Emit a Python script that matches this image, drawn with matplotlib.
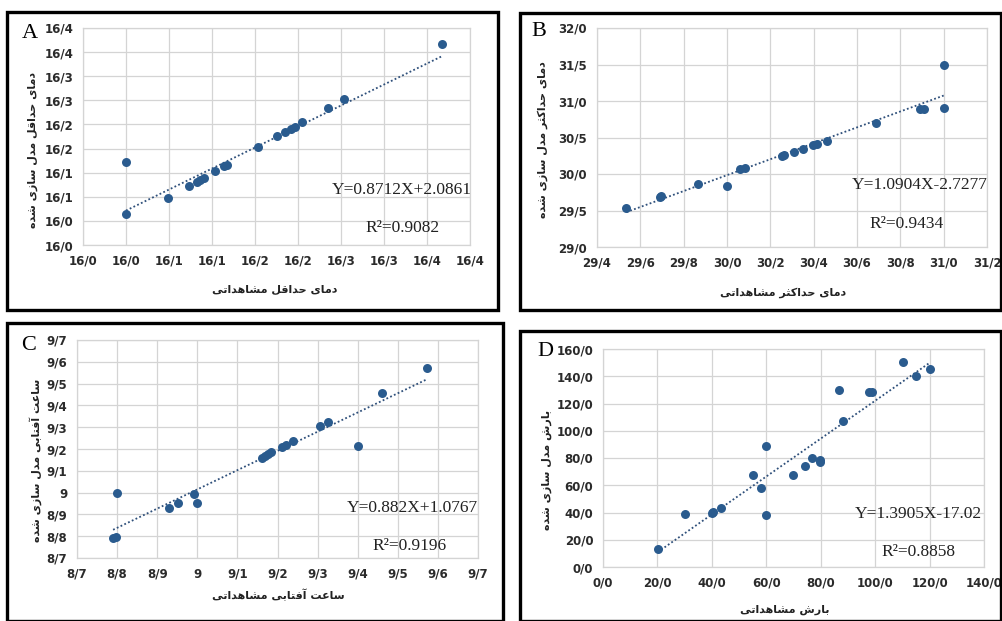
import numpy as np
import matplotlib
matplotlib.use("Agg")
import matplotlib.pyplot as plt
from matplotlib.patches import Rectangle

W, H = 1002, 621

# ---- data ----
a_obs = [16.030, 16.030, 16.079, 16.103, 16.112, 16.116, 16.121, 16.134, 16.144, 16.147,
         16.183, 16.206, 16.215, 16.222, 16.226, 16.235, 16.265, 16.283, 16.397]
a_mod = [16.152, 16.044, 16.078, 16.102, 16.111, 16.114, 16.119, 16.133, 16.143, 16.145,
         16.183, 16.206, 16.214, 16.221, 16.225, 16.235, 16.264, 16.283, 16.397]
a_ticks = [15.98, 16.03, 16.08, 16.13, 16.18, 16.23, 16.28, 16.33, 16.38, 16.43]
a_labels = ["16/0", "16/0", "16/1", "16/1", "16/2", "16/2", "16/3", "16/3", "16/4", "16/4"]
a_fit = (0.8712, 2.0861, 0.9082)

b_obs = [29.535, 29.689, 29.695, 29.867, 30.000, 30.061, 30.085, 30.253, 30.265, 30.309,
         30.349, 30.398, 30.414, 30.460, 30.689, 30.890, 30.908, 31.000, 31.000]
b_mod = [29.537, 29.688, 29.697, 29.867, 29.830, 30.069, 30.087, 30.252, 30.266, 30.307,
         30.349, 30.399, 30.413, 30.454, 30.693, 30.894, 30.894, 30.899, 31.500]
b_xticks = [29.4, 29.6, 29.8, 30.0, 30.2, 30.4, 30.6, 30.8, 31.0, 31.2]
b_xlabels = ["29/4", "29/6", "29/8", "30/0", "30/2", "30/4", "30/6", "30/8", "31/0", "31/2"]
b_yticks = [29.0, 29.5, 30.0, 30.5, 31.0, 31.5, 32.0]
b_ylabels = ["29/0", "29/5", "30/0", "30/5", "31/0", "31/5", "32/0"]
b_fit = (1.0904, -2.7277, 0.9434)

c_obs = [8.790, 8.798, 8.800, 8.929, 8.951, 8.992, 9.000, 9.162, 9.170, 9.176,
         9.183, 9.210, 9.220, 9.239, 9.305, 9.327, 9.401, 9.460, 9.574]
c_mod = [8.792, 8.795, 8.999, 8.929, 8.952, 8.992, 8.952, 9.160, 9.167, 9.175,
         9.184, 9.210, 9.219, 9.237, 9.305, 9.324, 9.216, 9.459, 9.573]
c_ticks = [8.7, 8.8, 8.9, 9.0, 9.1, 9.2, 9.3, 9.4, 9.5, 9.6, 9.7]
c_labels = ["8/7", "8/8", "8/9", "9", "9/1", "9/2", "9/3", "9/4", "9/5", "9/6", "9/7"]
c_fit = (0.882, 1.0767, 0.9196)

d_obs = [20.1, 30.2, 39.9, 40.4, 43.4, 55.0, 57.9, 60.0, 60.0, 69.9, 74.2,
         76.9, 79.9, 79.9, 86.8, 88.1, 97.6, 98.8, 110.1, 114.9, 120.0]
d_mod = [13.2, 39.1, 39.9, 40.4, 43.3, 67.5, 58.0, 88.8, 38.2, 67.3, 74.4,
         79.8, 78.5, 76.8, 129.7, 107.4, 128.2, 128.7, 150.5, 140.4, 145.6]
d_xticks = [0, 20, 40, 60, 80, 100, 120, 140]
d_xlabels = ["0/0", "20/0", "40/0", "60/0", "80/0", "100/0", "120/0", "140/0"]
d_yticks = [0, 20, 40, 60, 80, 100, 120, 140, 160]
d_ylabels = ["0/0", "20/0", "40/0", "60/0", "80/0", "100/0", "120/0", "140/0", "160/0"]
d_fit = (1.3905, -17.02, 0.8858)

a_xtitle = "دمای حداقل مشاهداتی"
a_ytitle = "دمای حداقل مدل سازی شده"
b_xtitle = "دمای حداکثر مشاهداتی"
b_ytitle = "دمای حداکثر مدل سازی شده"
c_xtitle = "ساعت آفتابی مشاهداتی"
c_ytitle = "ساعت آفتابی مدل سازی شده"
d_xtitle = "بارش مشاهداتی"
d_ytitle = "بارش مدل سازی شده"

# ---- minimal Persian shaping (matplotlib has no shaper) ----
FORMS = {
    'ا': ('\uFE8D', '\uFE8E', None, None),
    'آ': ('\uFE81', '\uFE82', None, None),
    'ب': ('\uFE8F', '\uFE90', '\uFE91', '\uFE92'),
    'ت': ('\uFE95', '\uFE96', '\uFE97', '\uFE98'),
    'ث': ('\uFE99', '\uFE9A', '\uFE9B', '\uFE9C'),
    'ح': ('\uFEA1', '\uFEA2', '\uFEA3', '\uFEA4'),
    'د': ('\uFEA9', '\uFEAA', None, None),
    'ر': ('\uFEAD', '\uFEAE', None, None),
    'ز': ('\uFEAF', '\uFEB0', None, None),
    'س': ('\uFEB1', '\uFEB2', '\uFEB3', '\uFEB4'),
    'ش': ('\uFEB5', '\uFEB6', '\uFEB7', '\uFEB8'),
    'ع': ('\uFEC9', '\uFECA', '\uFECB', '\uFECC'),
    'ف': ('\uFED1', '\uFED2', '\uFED3', '\uFED4'),
    'ق': ('\uFED5', '\uFED6', '\uFED7', '\uFED8'),
    'ک': ('\uFB8E', '\uFB8F', '\uFB90', '\uFB91'),
    'ل': ('\uFEDD', '\uFEDE', '\uFEDF', '\uFEE0'),
    'م': ('\uFEE1', '\uFEE2', '\uFEE3', '\uFEE4'),
    'ه': ('\uFEE9', '\uFEEA', '\uFEEB', '\uFEEC'),
    'ی': ('\uFBFC', '\uFBFD', '\uFBFE', '\uFBFF'),
}


def shape(text):
    out = []
    for i, c in enumerate(text):
        if c not in FORMS:
            out.append(c)
            continue
        iso, fin, ini, med = FORMS[c]
        prev = text[i - 1] if i > 0 else None
        nxt = text[i + 1] if i + 1 < len(text) else None
        jp = prev in FORMS and FORMS[prev][2] is not None
        jn = nxt in FORMS and ini is not None
        if jp and jn:
            g = med
        elif jp:
            g = fin
        elif jn:
            g = ini
        else:
            g = iso
        out.append(g)
    return ''.join(reversed(out))


def fx(x):
    return x / W


def fy(y):
    return 1 - y / H


fig = plt.figure(figsize=(W / 100, H / 100), dpi=100)
fig.patch.set_facecolor('white')

DOT = '#2A5B8E'
GRID = '#D4D4D4'
TICK = '#2B2B2B'

panels = [
    dict(x=a_obs, y=a_mod, xt=a_ticks, xl=a_labels, yt=a_ticks, yl=a_labels, fit=a_fit,
         xtitle=a_xtitle, ytitle=a_ytitle, letter='A',
         plot=(83, 28, 470, 245), box=(7, 12, 498, 310), let=(30, 33),
         eq=(402, 190), r2=(403, 228), ylab=(33, 150), xlab=(275, 290)),
    dict(x=b_obs, y=b_mod, xt=b_xticks, xl=b_xlabels, yt=b_yticks, yl=b_ylabels, fit=b_fit,
         xtitle=b_xtitle, ytitle=b_ytitle, letter='B',
         plot=(597, 28, 987, 247), box=(520, 13, 1001, 310), let=(539, 32),
         eq=(920, 185), r2=(907, 224), ylab=(543, 140), xlab=(783, 293)),
    dict(x=c_obs, y=c_mod, xt=c_ticks, xl=c_labels, yt=c_ticks, yl=c_labels, fit=c_fit,
         xtitle=c_xtitle, ytitle=c_ytitle, letter='C',
         plot=(77, 340, 478, 558), box=(7, 323, 503, 621), let=(29, 346),
         eq=(412, 508), r2=(410, 546), ylab=(36, 460), xlab=(278, 595)),
    dict(x=d_obs, y=d_mod, xt=d_xticks, xl=d_xlabels, yt=d_yticks, yl=d_ylabels, fit=d_fit,
         xtitle=d_xtitle, ytitle=d_ytitle, letter='D',
         plot=(603, 349, 984, 567), box=(520, 331, 1001, 621), let=(545, 352),
         eq=(918, 514), r2=(918, 552), ylab=(547, 470), xlab=(785, 610)),
]

for p in panels:
    # black frame round each panel
    l, t, r, b = p['box']
    fig.patches.append(Rectangle((fx(l), fy(b)), fx(r) - fx(l), fy(t) - fy(b),
                                 transform=fig.transFigure, fill=False,
                                 edgecolor='black', linewidth=2.4, zorder=5))

    l, t, r, b = p['plot']
    ax = fig.add_axes([fx(l), fy(b), fx(r) - fx(l), fy(t) - fy(b)])
    ax.set_xlim(p['xt'][0], p['xt'][-1])
    ax.set_ylim(p['yt'][0], p['yt'][-1])
    ax.set_xticks(p['xt'])
    ax.set_xticklabels(p['xl'])
    ax.set_yticks(p['yt'])
    ax.set_yticklabels(p['yl'])
    ax.tick_params(length=0, pad=7, labelsize=8.5, labelcolor=TICK)
    for lab in ax.get_xticklabels() + ax.get_yticklabels():
        lab.set_fontweight('bold')
    ax.grid(True, color=GRID, linewidth=0.9)
    ax.set_axisbelow(True)
    for s in ax.spines.values():
        s.set_color(GRID)
        s.set_linewidth(0.9)

    slope, icpt, r2 = p['fit']
    xs = np.array([min(p['x']), max(p['x'])])
    ax.plot(xs, slope * xs + icpt, linestyle=(0, (1, 1.3)), color='#2E4F7A',
            linewidth=1.3, zorder=2)
    ax.scatter(p['x'], p['y'], s=42, color=DOT, zorder=3, linewidths=0)

    sign = '+' if icpt >= 0 else '-'
    fig.text(fx(p['eq'][0]), fy(p['eq'][1]), f"Y={slope:g}X{sign}{abs(icpt):g}",
             family='Liberation Serif', fontsize=12.5, ha='center', va='center',
             color='#222222')
    fig.text(fx(p['r2'][0]), fy(p['r2'][1]), f"R\u00b2={r2:.4f}",
             family='Liberation Serif', fontsize=12.5, ha='center', va='center',
             color='#222222')
    fig.text(fx(p['let'][0]), fy(p['let'][1]), p['letter'],
             family='Liberation Serif', fontsize=16, ha='center', va='center')
    fig.text(fx(p['xlab'][0]), fy(p['xlab'][1]), shape(p['xtitle']),
             family='DejaVu Sans', fontsize=8, ha='center', va='center',
             fontweight='bold', color='#222222')
    fig.text(fx(p['ylab'][0]), fy(p['ylab'][1]), shape(p['ytitle']),
             family='DejaVu Sans', fontsize=8, ha='center', va='center',
             rotation=90, fontweight='bold', color='#222222')

fig.savefig('out.png', dpi=100)
